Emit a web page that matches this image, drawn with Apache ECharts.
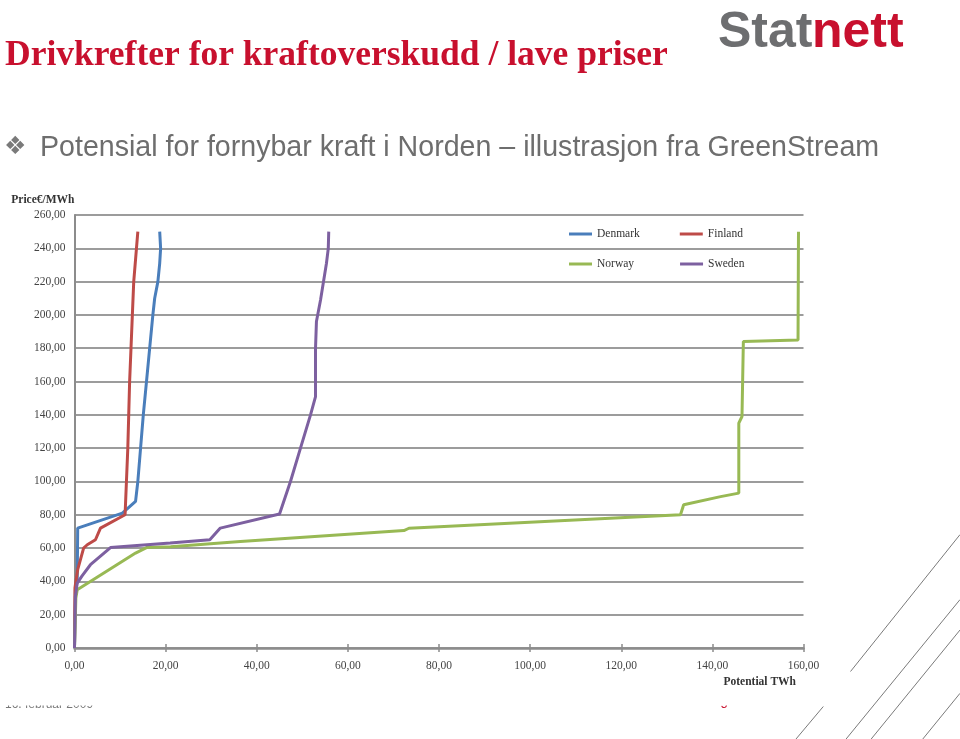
<!DOCTYPE html>
<html><head><meta charset="utf-8">
<script src="https://cdn.jsdelivr.net/npm/echarts@6/dist/echarts.min.js"></script>
<style>html,body{margin:0;padding:0;background:#fff;}#c{width:960px;height:739px;}</style>
</head><body><div id="c"></div>
<script>
// ---- data (x = Potential TWh, y = Price €/MWh) ----
const seriesNames = ['Denmark', 'Finland', 'Norway', 'Sweden'];
const denmark = [[0,0],[0.2,35],[0.6,40],[0.7,72],[10.5,81],[13.4,88],[13.9,100],[14.5,120],[15.1,140],[15.8,160],[16.5,180],[17.2,200],[17.6,210],[18.3,220],[18.7,231],[18.9,240],[18.7,250]];
const finland = [[0,0],[0.1,36],[0.3,40],[0.7,47],[2.0,60],[2.8,62],[4.6,65],[5.7,72],[11.1,80],[11.4,100],[11.7,120],[11.9,140],[12.1,160],[12.4,180],[12.7,200],[13.0,220],[13.6,240],[13.9,250]];
const norway = [[0,0],[0.3,30],[0.6,35],[13.4,57],[15.8,60.3],[21.1,60.8],[36.4,64],[72.3,70.5],[73.4,71.9],[133,80],[133.7,86],[141.8,90.9],[145.8,93],[145.8,135],[146.5,139],[146.8,184],[158.8,185],[158.9,250]];
const sweden = [[0,0],[0.2,31],[0.6,39],[1.7,43.5],[3.5,50],[7.9,60.3],[21,63],[29.7,65],[32,72],[45,80.5],[47.4,100],[49.6,120],[51.8,140],[52.9,151],[52.9,180],[53.1,196],[54.0,209],[55.3,231],[55.7,240],[55.8,250]];
const xTicks = { min: 0, max: 160, step: 20 };
const yTicks = { min: 0, max: 260, step: 20 };
const seriesData = [denmark, finland, norway, sweden];
const colors = ['#4a7ebb', '#be4b48', '#98b954', '#7d60a0'];

const fmt = v => v.toFixed(2).replace('.', ',');
const serif = '"Liberation Serif","Times New Roman",serif';
const sans = '"Liberation Sans",Arial,sans-serif';
const gridColor = '#9c9c9c';
const legendText = { fontFamily: serif, fontSize: 11.5, color: '#333' };

const chart = echarts.init(document.getElementById('c'), null, { renderer: 'canvas' });
chart.setOption({
  animation: false,
  backgroundColor: '#fff',
  grid: { left: 74.5, top: 215, width: 729, height: 433, containLabel: false },
  legend: [
    { data: ['Denmark', 'Finland'], left: 569, top: 228, padding: 0, icon: 'rect', itemWidth: 23, itemHeight: 3, itemGap: 40, textStyle: legendText },
    { data: ['Norway', 'Sweden'], left: 569, top: 258, padding: 0, icon: 'rect', itemWidth: 23, itemHeight: 3, itemGap: 46, textStyle: legendText }
  ],
  xAxis: [{
    type: 'value', min: xTicks.min, max: xTicks.max, interval: xTicks.step,
    axisLine: { show: true, lineStyle: { color: '#8c8c8c', width: 2.5 } },
    axisTick: { show: true, length: 4, lineStyle: { color: '#8c8c8c', width: 1.5 } },
    axisLabel: { formatter: fmt, fontFamily: serif, fontSize: 11.5, color: '#444', margin: 12 },
    splitLine: { show: false }
  }, {
    type: 'value', min: xTicks.min, max: xTicks.max, interval: xTicks.step, position: 'bottom',
    axisLine: { show: false },
    axisTick: { show: true, inside: true, length: 4, lineStyle: { color: '#8c8c8c', width: 1.5 } },
    axisLabel: { show: false }, splitLine: { show: false }
  }],
  yAxis: {
    type: 'value', min: yTicks.min, max: yTicks.max, interval: yTicks.step,
    name: 'Price€/MWh', nameLocation: 'end', nameGap: 9,
    nameTextStyle: { fontFamily: serif, fontSize: 11.5, fontWeight: 'bold', color: '#333', align: 'right' },
    axisLine: { show: true, lineStyle: { color: '#8c8c8c', width: 2 } },
    axisTick: { show: false },
    axisLabel: { formatter: fmt, fontFamily: serif, fontSize: 11.5, color: '#444', margin: 9 },
    splitLine: { show: true, lineStyle: { color: gridColor, width: 2 } }
  },
  series: seriesNames.map((n, i) => ({
    name: n, type: 'line', data: seriesData[i], symbol: 'none', showSymbol: false,
    color: colors[i], itemStyle: { color: colors[i] }, lineStyle: { width: 3, color: colors[i] }, z: 3 + i
  })),
  graphic: [
    { type: 'text', x: 5, y: 56, z: 10, style: { text: 'Drivkrefter for kraftoverskudd / lave priser',
      font: 'bold 35.5px ' + serif, fill: '#c8102e', textVerticalAlign: 'middle' } },
    { type: 'text', x: 718, y: 33, z: 10, style: { text: 'Stat', font: 'bold 50px ' + sans, fill: '#6d6e70', textVerticalAlign: 'middle' } },
    { type: 'text', x: 812, y: 33, z: 10, style: { text: 'nett', font: 'bold 50px ' + sans, fill: '#c8102e', textVerticalAlign: 'middle' } },
    { type: 'text', x: 4, y: 147, z: 10, style: { text: '❖', font: '25px "DejaVu Sans"', fill: '#7a7a7a', textVerticalAlign: 'middle' } },
    { type: 'text', x: 40, y: 148, z: 10, style: { text: 'Potensial for fornybar kraft i Norden – illustrasjon fra GreenStream',
      font: '28.6px ' + sans, fill: '#6e6e6e', textVerticalAlign: 'middle' } },
    { type: 'text', x: 796, y: 682, z: 10, style: { text: 'Potential TWh', font: 'bold 11.5px ' + serif, fill: '#333',
      textAlign: 'right', textVerticalAlign: 'middle' } },
    // footer (mostly hidden behind the chart picture)
    { type: 'text', x: 5, y: 705, z: 1, style: { text: '16. februar 2009', font: '12px ' + sans, fill: '#777', textVerticalAlign: 'middle' } },
    { type: 'text', x: 724, y: 705, z: 1, style: { text: '5', font: '12px ' + sans, fill: '#c8102e', textAlign: 'center', textVerticalAlign: 'middle' } },
    { type: 'rect', z: 2, shape: { x: 0, y: 690, width: 850, height: 15.5 }, style: { fill: '#fff' } },
    // decorative diagonal lines
    { type: 'line', z: 1, shape: { x1: 796, y1: 739, x2: 823.3, y2: 706.5 }, style: { stroke: '#7a7a7a', lineWidth: 1 } },
    { type: 'line', z: 1, shape: { x1: 850.5, y1: 671.5, x2: 960, y2: 534.6 }, style: { stroke: '#7a7a7a', lineWidth: 1 } },
    { type: 'line', z: 1, shape: { x1: 846.1, y1: 739, x2: 960, y2: 599.6 }, style: { stroke: '#7a7a7a', lineWidth: 1 } },
    { type: 'line', z: 1, shape: { x1: 871.2, y1: 739, x2: 960, y2: 630 }, style: { stroke: '#7a7a7a', lineWidth: 1 } },
    { type: 'line', z: 1, shape: { x1: 922.8, y1: 739, x2: 960, y2: 693.3 }, style: { stroke: '#7a7a7a', lineWidth: 1 } }
  ]
});
</script></body></html>
